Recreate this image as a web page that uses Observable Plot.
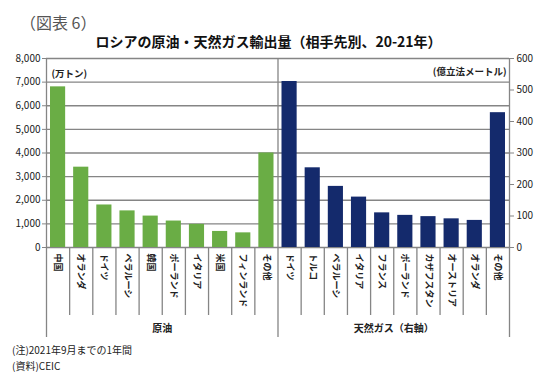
<!DOCTYPE html>
<html><head><meta charset="utf-8">
<script src="https://cdn.jsdelivr.net/npm/d3@7"></script>
<script src="https://cdn.jsdelivr.net/npm/@observablehq/plot@0.6"></script>
<style>
body{margin:0;background:#fff;width:550px;height:392px;position:relative;overflow:hidden;font-family:"Noto Sans CJK JP",sans-serif;}
#fig{position:absolute;left:20px;top:10px;font-size:16px;color:#555;white-space:nowrap;}
#title{position:absolute;left:0;width:537px;top:31px;text-align:center;font-size:14px;font-weight:bold;color:#111;white-space:nowrap;}
#chart{position:absolute;left:0;top:50px;}
.note{position:absolute;left:12px;font-size:10px;color:#222;white-space:nowrap;}
</style></head><body>
<div id="fig">（図表 6）</div>
<div id="title">ロシアの原油・天然ガス輸出量（相手先別、20-21年）</div>
<div id="chart"></div>
<div class="note" style="top:342px">(注)2021年9月までの1年間</div>
<div class="note" style="top:358px">(資料)CEIC</div>
<script>
// ---- data ----
const oilCountries = ["中国","オランダ","ドイツ","ベラルーシ","韓国","ポーランド","イタリア","米国","フィンランド","その他"];
const oilValues = [6800, 3400, 1800, 1550, 1330, 1120, 980, 680, 620, 4000];
const gasCountries = ["ドイツ","トルコ","ベラルーシ","イタリア","フランス","ポーランド","カザフスタン","オーストリア","オランダ","その他"];
const gasValues = [527, 253, 194, 160, 110, 102, 98, 91, 86, 428];
const leftTicks = [0, 1000, 2000, 3000, 4000, 5000, 6000, 7000, 8000];
const rightTicks = [0, 100, 200, 300, 400, 500, 600];
const groupLabels = ["原油", "天然ガス（右軸）"];
const unitLabels = ["(万トン)", "(億立法メートル)"];

// ---- build ----
const k = leftTicks[leftTicks.length - 1] / rightTicks[rightTicks.length - 1];
const n1 = oilCountries.length, n2 = gasCountries.length, n = n1 + n2;
const oil = oilCountries.map((c, i) => ({i, c, v: oilValues[i]}));
const gas = gasCountries.map((c, i) => ({i: n1 + i, c, v: gasValues[i]}));
const labels = [...oilCountries, ...gasCountries];
const boundaries = [0, n1, n];
const inner = d3.range(1, n).filter(i => i !== n1);
const grey = "#858585";
const font = "'Noto Sans CJK JP', sans-serif";

const chart = Plot.plot({
  width: 550, height: 300,
  marginTop: 8, marginBottom: 103, marginLeft: 46, marginRight: 41,
  x: {type: "linear", domain: [0, n]},
  y: {domain: [0, leftTicks[leftTicks.length - 1]]},
  style: {fontFamily: font, fontSize: "10px", color: "#222", background: "#fff"},
  marks: [
    Plot.gridY(leftTicks, {stroke: grey, strokeOpacity: 1, strokeWidth: 1.3}),
    Plot.rectY(oil, {x1: "i", x2: d => d.i + 1, y1: 0, y2: "v", fill: "#6aad45", insetLeft: 4, insetRight: 4}),
    Plot.rectY(gas, {x1: "i", x2: d => d.i + 1, y1: 0, y2: d => d.v * k, fill: "#142a6c", insetLeft: 4, insetRight: 4}),
    Plot.ruleX(boundaries, {stroke: grey, strokeWidth: 1.3}),
    Plot.axisY({anchor: "left", ticks: leftTicks, tickFormat: d3.format(","), tickSize: 4, tickPadding: 2, label: null, stroke: grey, fill: "#222"}),
    Plot.axisY({anchor: "right", ticks: rightTicks.map(v => v * k), tickFormat: d => String(Math.round(d / k)), tickSize: 4, tickPadding: 3, label: null, stroke: grey, fill: "#222"}),
    Plot.axisX({ticks: inner, tickSize: 68, tickFormat: () => "", label: null, stroke: grey, strokeWidth: 1.3}),
    Plot.axisX({ticks: boundaries, tickSize: 90, tickFormat: () => "", label: null, stroke: grey, strokeWidth: 1.3}),
    Plot.axisX({ticks: labels.map((_, i) => i + 0.5), tickSize: 0, tickRotate: 90, tickPadding: 6,
      tickFormat: d => labels[Math.floor(d)], fontSize: 9, fontWeight: "bold", label: null, fill: "#222"}),
    Plot.axisX({ticks: [n1 / 2, n1 + n2 / 2], tickSize: 0, tickPadding: 77,
      tickFormat: d => d < n1 ? groupLabels[0] : groupLabels[1], fontSize: 10, fontWeight: "bold", label: null, fill: "#222"}),
    Plot.text([unitLabels[0]], {frameAnchor: "top-left", dx: 5, dy: 12, fontSize: 9.5, fontWeight: "bold", fill: "#222"}),
    Plot.text([unitLabels[1]], {frameAnchor: "top-right", dx: -3, dy: 10, textAnchor: "end", fontSize: 9.5, fontWeight: "bold", fill: "#222"})
  ]
});
document.getElementById("chart").appendChild(chart);
</script>
</body></html>
